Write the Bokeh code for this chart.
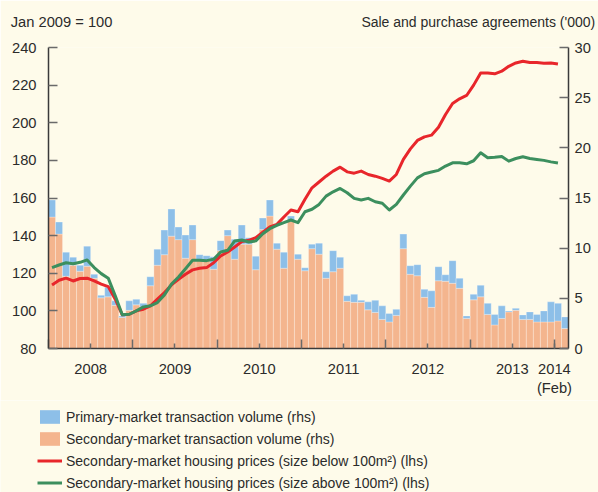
import numpy as np
from bokeh.plotting import figure
from bokeh.layouts import column
from bokeh.models import Range1d, LinearAxis, FixedTicker, Label, Legend, LegendItem, ColumnDataSource
from bokeh.embed import file_html
from bokeh.resources import INLINE

# Months: Jan 2008 (0) ... Feb 2014 (73)
months = list(range(74))

# Transaction volumes ('000), right-hand scale
secondary = [13.1, 11.4, 7.2, 8.3, 7.7, 8.2, 7.0, 5.05, 5.15, 4.3, 3.1, 3.8,
             4.35, 4.15, 6.25, 8.3, 9.35, 11.2, 10.85, 9.0, 10.85, 8.8, 8.75, 7.9,
             9.75, 11.25, 8.9, 10.4, 10.4, 7.85, 11.85, 13.2, 9.9, 8.0, 12.7, 8.9,
             7.75, 9.95, 9.4, 7.0, 7.65, 8.0, 4.7, 4.6, 4.6, 3.85, 3.6, 2.9,
             2.65, 3.3, 9.95, 7.4, 7.25, 5.1, 4.1, 6.75, 6.7, 6.5, 6.0, 3.0,
             4.85, 5.15, 3.4, 2.35, 3.0, 3.65, 3.8, 2.9, 2.9, 2.65, 2.65, 2.65,
             2.75, 2.0]
primary = [1.7, 1.2, 2.4, 0.8, 0.6, 2.0, 0.4, 0.25, 0.95, 0.45, 0.15, 0.95,
           0.55, 0.35, 0.9, 1.6, 2.45, 2.7, 1.25, 2.3, 1.45, 0.55, 0.5, 1.25,
           1.0, 0.55, 2.0, 1.9, 0.65, 1.35, 1.15, 1.6, 0.6, 1.6, 0.5, 0.5,
           0.3, 0.45, 1.1, 0.65, 2.1, 1.1, 0.55, 0.8, 0.2, 0.8, 1.2, 1.35,
           0.85, 0.6, 1.45, 0.85, 1.1, 0.8, 1.65, 1.4, 0.65, 2.25, 1.0, 0.25,
           0.55, 1.15, 1.1, 1.05, 1.25, 0.1, 0.2, 0.45, 0.75, 0.75, 1.1, 2.0,
           1.75, 1.15]

# Housing price indices (Jan 2009 = 100), left-hand scale, Jan 2008 ... Jan 2014
price_small = [113.8, 116.3, 117.4, 115.9, 117.2, 117.4, 115.9, 114.2, 112.9, 106.2, 97.9, 98.2,
               100.0, 100.9, 102.7, 106.2, 109.7, 113.8, 116.8, 119.5, 121.8, 122.7, 123.0, 125.6,
               129.2, 131.3, 134.0, 136.8, 137.5, 138.9, 141.8, 144.6, 146.0, 149.9, 153.6, 152.7,
               159.3, 165.4, 168.5, 171.6, 174.3, 176.4, 173.9, 173.2, 174.3, 172.5, 171.6, 170.4,
               169.0, 172.5, 180.5, 186.1, 190.6, 192.5, 193.4, 197.6, 204.4, 210.2, 212.7, 214.5,
               220.0, 226.5, 226.5, 226.0, 227.4, 230.0, 231.8, 232.7, 232.0, 232.0, 231.6, 231.8,
               231.2]
price_large = [123.0, 124.4, 125.6, 125.1, 125.8, 127.1, 123.0, 119.8, 117.4, 108.0, 97.9, 98.2,
               100.0, 102.1, 102.7, 104.4, 108.5, 114.2, 118.0, 122.4, 126.9, 126.9, 126.7, 127.4,
               131.3, 132.2, 137.2, 137.7, 136.6, 137.2, 141.0, 143.7, 145.5, 146.9, 148.3, 146.9,
               152.7, 154.0, 156.6, 161.0, 163.3, 165.1, 162.8, 159.8, 158.9, 159.8, 158.0, 157.2,
               153.6, 156.6, 161.6, 166.3, 170.7, 172.9, 173.8, 174.7, 177.0, 178.7, 178.7, 178.2,
               179.8, 184.0, 181.4, 181.7, 182.1, 179.6, 181.0, 181.9, 181.0, 180.5, 180.0, 179.2,
               178.6]

year_labels = {6: "2008", 18: "2009", 30: "2010", 42: "2011", 54: "2012", 66: "2013", 72: "2014\n(Feb)"}
year_starts = [0, 12, 24, 36, 48, 60, 72]
left_ticks = [80, 100, 120, 140, 160, 180, 200, 220, 240]
right_ticks = [0, 5, 10, 15, 20, 25, 30]
legend_labels = ["Primary-market transaction volume (rhs)",
                 "Secondary-market transaction volume (rhs)",
                 "Secondary-market housing prices (size below 100m²) (lhs)",
                 "Secondary-market housing prices (size above 100m²) (lhs)"]

BG = "#FEFBEA"
TXT = "#2b2b2b"
FONT = "Liberation Sans"
FS = "14.7px"
FS_TEXT = "14px"
ORANGE = "#F4B58E"
BLUE = "#8DBFE8"
RED = "#E8262B"
GREEN = "#3C8F5E"

bar_src = ColumnDataSource(dict(x=[m + 0.5 for m in months], secondary=secondary, primary=primary))
line_src = ColumnDataSource(dict(x=[m + 0.5 for m in months[:len(price_small)]],
                                 small=price_small, large=price_large))

# ---------------- main chart ----------------
p = figure(width=598, height=400, output_backend="svg", toolbar_location=None,
           x_range=Range1d(0, 74), y_range=Range1d(80, 240),
           min_border_left=48, min_border_right=30, min_border_top=47, min_border_bottom=52)
p.extra_y_ranges = {"right": Range1d(0, 30)}
p.background_fill_color = BG
p.border_fill_color = BG
p.outline_line_color = None
p.grid.visible = False
p.frame_align = False

bars = p.vbar_stack(["secondary", "primary"], x="x", width=1.0, source=bar_src,
                    fill_color=[ORANGE, BLUE], line_color="white", line_alpha=0.35,
                    line_width=0.8, y_range_name="right")
r_small = p.line("x", "small", source=line_src, line_color=RED, line_width=3, line_join="round")
r_large = p.line("x", "large", source=line_src, line_color=GREEN, line_width=3, line_join="round")

# x axis
xa = p.xaxis[0]
xa.ticker = FixedTicker(ticks=sorted(year_labels.keys()), minor_ticks=year_starts)
xa.major_label_overrides = year_labels
xa.major_tick_in = 5
xa.major_tick_out = 0
xa.minor_tick_in = 9
xa.minor_tick_out = 0
xa.major_label_standoff = 12

# left axis
ya = p.yaxis[0]
ya.ticker = FixedTicker(ticks=left_ticks)
ya.major_tick_in = 9
ya.major_tick_out = 0
ya.major_label_standoff = 12

# right axis
ra = LinearAxis(y_range_name="right", ticker=FixedTicker(ticks=right_ticks))
ra.major_tick_in = 9
ra.major_tick_out = 0
ra.major_label_standoff = 6
p.add_layout(ra, "right")

for ax in (xa, ya, ra):
    ax.axis_line_color = "#3a3a3a"
    ax.axis_line_width = 1.5
    ax.major_tick_line_color = "#6a6a6a"
    ax.major_tick_line_width = 1.5
    ax.minor_tick_line_color = "#6a6a6a" if ax is xa else None
    ax.minor_tick_line_width = 1.5
    ax.major_label_text_font = FONT
    ax.major_label_text_font_size = FS
    ax.major_label_text_color = TXT

# header texts (placed in the top border)
p.add_layout(Label(x=-5.37, y=253.7, text="Jan 2009 = 100",
                   text_font=FONT, text_font_size=FS, text_color=TXT, text_baseline="middle",
                   text_align="left"), "above")
p.add_layout(Label(x=77.8, y=253.7, text="Sale and purchase agreements ('000)",
                   text_font=FONT, text_font_size=FS_TEXT, text_color=TXT, text_baseline="middle",
                   text_align="right"), "above")

# ---------------- legend strip ----------------
q = figure(width=598, height=92, output_backend="svg", toolbar_location=None,
           x_range=Range1d(0, 1), y_range=Range1d(0, 1),
           x_axis_location=None, y_axis_location=None, min_border=0)
q.background_fill_color = BG
q.border_fill_color = BG
q.outline_line_color = None
q.grid.visible = False
q.frame_align = False

# legend-key renderers (no visible data; they only provide the legend swatches)
key_src = ColumnDataSource(dict(x=np.array([np.nan]), y=np.array([np.nan])))
k_blue = q.vbar(x="x", top="y", width=1, source=key_src, fill_color=BLUE, line_color=None)
k_orange = q.vbar(x="x", top="y", width=1, source=key_src, fill_color=ORANGE, line_color=None)
k_red = q.line(x="x", y="y", source=key_src, line_color=RED, line_width=3)
k_green = q.line(x="x", y="y", source=key_src, line_color=GREEN, line_width=3)

legend = Legend(items=[LegendItem(label=lab, renderers=[r])
                       for lab, r in zip(legend_labels, [k_blue, k_orange, k_red, k_green])],
                location=(37, 1), orientation="vertical", background_fill_alpha=0,
                border_line_color=None, glyph_width=25, glyph_height=17, label_height=17,
                spacing=5, padding=0, margin=0, label_standoff=4,
                label_text_font=FONT, label_text_font_size=FS_TEXT, label_text_color=TXT)
q.add_layout(legend, "center")

layout = column(p, q, spacing=0)
open("out.html", "w").write(file_html(layout, INLINE))
